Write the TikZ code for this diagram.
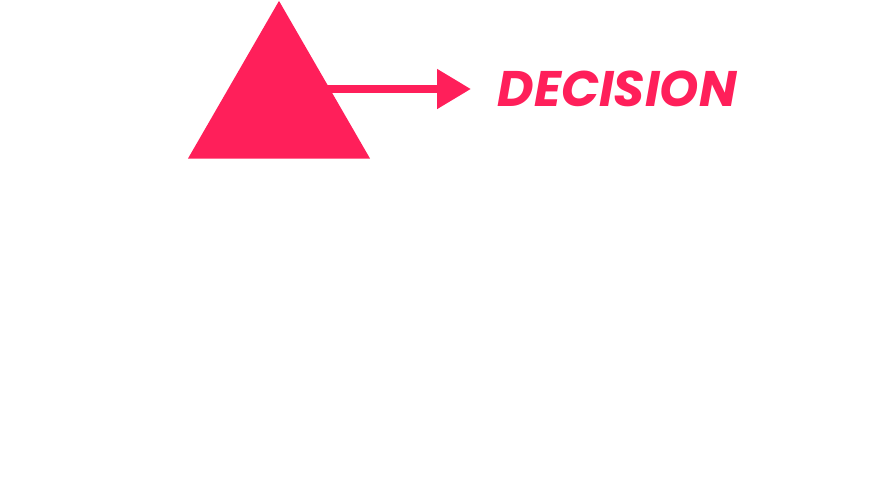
\documentclass[tikz,border=0pt]{standalone}
\usepackage{fontspec}
\setmainfont{Poppins}
\usetikzlibrary{arrows.meta,shapes.geometric}
\definecolor{decpink}{RGB}{255,31,90}
\begin{document}
\begin{tikzpicture}[x=1pt,y=-1pt]
	\useasboundingbox (0,0) rectangle (888,477);

	% triangle
	\node[regular polygon, regular polygon sides=3, minimum size=210.2pt,
		inner sep=0pt, fill=decpink] (tri) at (279,106) {};

	% label
	\node[anchor=west, inner sep=0pt, text=decpink,
		font=\fontsize{50}{60}\selectfont\bfseries\itshape] (lbl) at (497.5,88.5) {DECISION};

	% arrow
	\coordinate (tip) at (471,89);
	\draw[decpink, line width=8pt, -{Triangle[length=34pt,width=38pt]}] (tri.center |- tip) -- (tip);

\end{tikzpicture}
\end{document}
